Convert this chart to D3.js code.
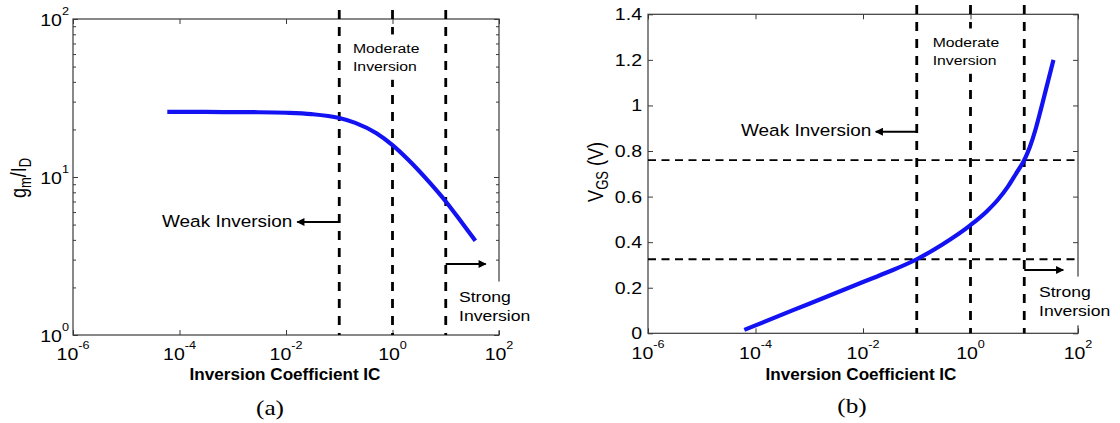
<!DOCTYPE html>
<html>
<head>
<meta charset="utf-8">
<script src="https://cdn.jsdelivr.net/npm/d3@7"></script>
<style>
  html, body { margin: 0; padding: 0; background: #fff; }
  svg { display: block; }
</style>
</head>
<body>
<svg id="fig" width="1120" height="423"></svg>
<script>
// (a) transconductance efficiency gm/ID versus inversion coefficient
const icA   = [5.9e-5, 1e-4, 3e-4, 1e-3, 3e-3, 1e-2, 3e-2, 0.1, 0.2, 0.5, 1, 2, 5, 10, 20, 36];
const gmIdA = [25.8, 25.8, 25.8, 25.75, 25.7, 25.5, 25.0, 23.6, 22.0, 18.9, 15.9, 12.8, 9.2, 7.0, 5.15, 3.95];

// (b) gate-source voltage versus inversion coefficient
const icB  = [6.2e-5, 1e-4, 1e-3, 1e-2, 3e-2, 0.1, 0.3, 1, 2, 3.2, 5, 7, 10, 12.6, 16, 20, 25, 35];
const vgsB = [0.015, 0.035, 0.13, 0.225, 0.27, 0.325, 0.39, 0.475, 0.535, 0.585, 0.645, 0.70, 0.76, 0.815, 0.89, 0.975, 1.065, 1.2];

// weak / moderate / strong inversion boundaries and the VGS they correspond to
const icBounds  = [0.1, 1, 10];
const vgsLevels = [0.325, 0.76];

// axis ticks
const xTickExps    = [-6, -4, -2, 0, 2];
const yTickExpsA   = [0, 1, 2];
const yTicksB      = [0, 0.2, 0.4, 0.6, 0.8, 1, 1.2, 1.4];
const yTickLabelsB = ["0", "0.2", "0.4", "0.6", "0.8", "1", "1.2", "1.4"];

// texts
const xTitle        = "Inversion Coefficient IC";
const moderateLines = ["Moderate", "Inversion"];
const strongLines   = ["Strong", "Inversion"];
const weakText      = "Weak Inversion";
const panelTags     = ["(a)", "(b)"];

const svg = d3.select("#fig");
const SX = 1.15;                       // text is drawn slightly wide
const FONT = "Arial, 'Liberation Sans', Helvetica, sans-serif";
const SERIF = "'Liberation Serif', 'Times New Roman', Times, serif";
const AXIS = "#3a3a3a";
const BLUE = "#1212f2";

// text block: one or more lines, optional white background box
function label(x, y, lines, o = {}) {
  const g = svg.append("g")
    .attr("transform", `translate(${x},${y}) scale(${o.sx ?? SX},1)` + (o.rot ? " rotate(-90)" : ""));
  const lh = o.lh || 19;
  lines.forEach((parts, i) => {
    const t = g.append("text")
      .attr("y", i * lh)
      .attr("font-family", o.family || FONT)
      .attr("font-size", o.size || 14)
      .attr("font-weight", o.weight || "normal")
      .attr("text-anchor", o.anchor || "start")
      .attr("fill", "#000");
    (Array.isArray(parts) ? parts : [parts]).forEach(p => {
      if (typeof p === "string") p = { t: p };
      const s = t.append("tspan").text(p.t);
      if (p.size) s.attr("font-size", p.size);
      if (p.dy) s.attr("dy", p.dy);
    });
  });
  if (o.bg) {
    const b = g.node().getBBox();
    const px = 4, py = 6;
    g.insert("rect", "text")
      .attr("x", b.x - px).attr("y", b.y - py)
      .attr("width", b.width + 2 * px).attr("height", b.height + 2 * py)
      .attr("fill", "#fff");
  }
  return g;
}

// arrow marker
svg.append("defs").append("marker")
  .attr("id", "head")
  .attr("viewBox", "0 0 10 10")
  .attr("refX", 9).attr("refY", 5)
  .attr("markerUnits", "userSpaceOnUse")
  .attr("markerWidth", 9).attr("markerHeight", 8)
  .attr("orient", "auto")
  .append("path").attr("d", "M0,0 L10,5 L0,10 z").attr("fill", "#000");

function arrow(x1, x2, y) {
  svg.append("line")
    .attr("x1", x1).attr("x2", x2).attr("y1", y).attr("y2", y)
    .attr("stroke", "#000").attr("stroke-width", 2)
    .attr("marker-end", "url(#head)");
}

// box with inward ticks on all four sides
function frame(x, y, xTicks, yTicks, yMinor) {
  const [x0, x1] = x.range();
  const [y0, y1] = y.range();   // y0 bottom, y1 top
  const clean = g => g.attr("color", AXIS).call(s => s.select(".domain").remove());
  svg.append("g").attr("transform", `translate(0,${y0})`)
    .call(d3.axisBottom(x).tickValues(xTicks).tickSize(-5).tickSizeOuter(0).tickFormat("")).call(clean);
  svg.append("g").attr("transform", `translate(0,${y1})`)
    .call(d3.axisTop(x).tickValues(xTicks).tickSize(-5).tickSizeOuter(0).tickFormat("")).call(clean);
  svg.append("g").attr("transform", `translate(${x0},0)`)
    .call(d3.axisLeft(y).tickValues(yTicks).tickSize(-5).tickSizeOuter(0).tickFormat("")).call(clean);
  svg.append("g").attr("transform", `translate(${x1},0)`)
    .call(d3.axisRight(y).tickValues(yTicks).tickSize(-5).tickSizeOuter(0).tickFormat("")).call(clean);
  if (yMinor) {
    svg.append("g").attr("transform", `translate(${x0},0)`)
      .call(d3.axisLeft(y).tickValues(yMinor).tickSize(-3).tickSizeOuter(0).tickFormat("")).call(clean);
    svg.append("g").attr("transform", `translate(${x1},0)`)
      .call(d3.axisRight(y).tickValues(yMinor).tickSize(-3).tickSizeOuter(0).tickFormat("")).call(clean);
  }
  svg.append("rect")
    .attr("x", x0).attr("y", y1).attr("width", x1 - x0).attr("height", y0 - y1)
    .attr("fill", "none").attr("stroke", AXIS).attr("stroke-width", 1.2);
}

function vDashes(x, yTop, yBottom) {
  icBounds.forEach(ic => {
    svg.append("line")
      .attr("x1", x(ic)).attr("x2", x(ic)).attr("y1", yTop).attr("y2", yBottom)
      .attr("stroke", "#000").attr("stroke-width", 2.8)
      .attr("stroke-dasharray", "9,8");
  });
}

function curve(x, y, xs, ys) {
  const pts = xs.map((v, i) => [v, ys[i]]);
  svg.append("path")
    .attr("d", d3.line().x(d => x(d[0])).y(d => y(d[1])).curve(d3.curveMonotoneX)(pts))
    .attr("fill", "none").attr("stroke", BLUE).attr("stroke-width", 4.2);
}

const pow10 = e => Math.pow(10, e);
const sup = e => [{ t: "10" }, { t: String(e), size: 11, dy: -11 }];

const TICK = 17, MOD = 13.7, WEAK = 16.5, STRONG = 15.3;

// ---------------- panel (a) ----------------
const xA = d3.scaleLog().domain([1e-6, 1e2]).range([73, 499]);
const yA = d3.scaleLog().domain([1, 100]).range([335, 19]);
const minorA = yA.ticks().filter(v => !yTickExpsA.map(pow10).includes(v));

frame(xA, yA, xTickExps.map(pow10), yTickExpsA.map(pow10), minorA);
vDashes(xA, 10, 335);
curve(xA, yA, icA, gmIdA);

xTickExps.forEach(e => label(xA(pow10(e)), 359.5, [sup(e)], { anchor: "middle", size: TICK }));
yTickExpsA.forEach(e => label(69, yA(pow10(e)) + 7, [sup(e)], { anchor: "end", size: TICK }));
label(285, 380, [xTitle], { anchor: "middle", size: 16, weight: "bold", sx: 1.07 });
label(26, 178, [[{ t: "g" }, { t: "m", size: 13, dy: 4 }, { t: "/I", size: 18, dy: -4 }, { t: "D", size: 13, dy: 4 }]],
  { anchor: "middle", size: 18, rot: true, sx: 1.2 });
label(270, 415, [panelTags[0]], { anchor: "middle", size: 22, family: SERIF });

label(353, 52.5, moderateLines, { bg: true, lh: 18.5, size: MOD });
arrow(xA(icBounds[0]), xA(icBounds[0]) - 42, 222);
label(162, 227, [weakText], { size: WEAK });
arrow(xA(icBounds[2]), xA(icBounds[2]) + 40, 264);
label(459, 301.5, strongLines, { bg: true, lh: 20, size: STRONG });

// ---------------- panel (b) ----------------
const xB = d3.scaleLog().domain([1e-6, 1e2]).range([648, 1078]);
const yB = d3.scaleLinear().domain([0, 1.4]).range([333.3, 14.3]);

frame(xB, yB, xTickExps.map(pow10), yTicksB, null);
vgsLevels.forEach(v => {
  svg.append("line")
    .attr("x1", xB.range()[0]).attr("x2", xB.range()[1]).attr("y1", yB(v)).attr("y2", yB(v))
    .attr("stroke", "#000").attr("stroke-width", 1.8)
    .attr("stroke-dasharray", "8,5.5");
});
vDashes(xB, 5, 333.3);
curve(xB, yB, icB, vgsB);

xTickExps.forEach(e => label(xB(pow10(e)), 358.5, [sup(e)], { anchor: "middle", size: TICK }));
yTicksB.forEach((v, i) => label(642, yB(v) + 6, [yTickLabelsB[i]], { anchor: "end", size: TICK }));
label(861, 380, [xTitle], { anchor: "middle", size: 16, weight: "bold", sx: 1.07 });
label(603, 172, [[{ t: "V" }, { t: "GS", size: 13, dy: 4 }, { t: " (V)", size: 18, dy: -4 }]],
  { anchor: "middle", size: 18, rot: true, sx: 1.2 });
label(852, 413, [panelTags[1]], { anchor: "middle", size: 22, family: SERIF });

label(932.7, 46.5, moderateLines, { bg: true, lh: 18.5, size: MOD });
arrow(xB(icBounds[0]), xB(icBounds[0]) - 41, 131.7);
label(741, 136, [weakText], { size: WEAK });
arrow(xB(icBounds[2]), xB(icBounds[2]) + 39, 270);
label(1039, 296.5, strongLines, { bg: true, lh: 20, size: STRONG });
</script>
</body>
</html>
